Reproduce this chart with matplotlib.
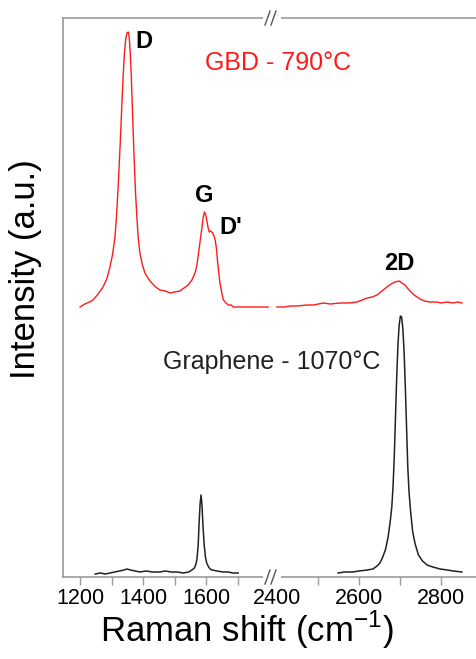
import matplotlib
matplotlib.use("Agg")
import matplotlib.pyplot as plt
from matplotlib.lines import Line2D

plt.rcParams['font.family'] = ['Liberation Sans', 'DejaVu Sans']
plt.rcParams['mathtext.fontset'] = 'custom'
plt.rcParams['mathtext.rm'] = 'Liberation Sans'

# GBD - 790C spectrum (red), low-wavenumber part
red_left_x = [1200, 1215, 1230, 1241, 1255, 1273, 1285, 1295, 1303, 1311, 1316, 1321, 1327, 1333,
              1337, 1341, 1345, 1349, 1353, 1356, 1359, 1362, 1366, 1371, 1376, 1381, 1385, 1390,
              1398, 1406, 1417, 1428, 1440, 1454, 1470, 1486, 1500, 1517, 1530, 1543, 1555, 1565,
              1571, 1576, 1582, 1587, 1591, 1595, 1599, 1602, 1606, 1610, 1615, 1621, 1625, 1629,
              1633, 1636, 1640, 1644, 1650, 1655, 1663, 1671, 1680, 1686, 1700, 1715, 1729, 1745,
              1760, 1780, 1797]
red_left_y = [270, 273, 275, 277, 282, 290, 298, 310, 322, 340, 362, 390, 430, 474,
              502, 524, 538, 544, 545, 540, 526, 507, 470, 424, 385, 357, 338, 324,
              312, 304, 298, 294, 290, 287, 286, 284, 285, 286, 289, 292, 297, 304,
              312, 324, 338, 350, 360, 365, 362, 357, 350, 345, 346, 344, 341, 337,
              328, 317, 305, 294, 284, 277, 274, 272, 272, 270, 270, 270, 270, 270,
              270, 270, 270]

# GBD - 790C spectrum (red), 2D region
red_right_x = [2400, 2420, 2432, 2450, 2473, 2490, 2512, 2530, 2554, 2575, 2595, 2608, 2620, 2632,
               2644, 2656, 2668, 2678, 2688, 2698, 2705, 2712, 2720, 2729, 2738, 2749, 2760, 2773,
               2790, 2800, 2815, 2830, 2840, 2851]
red_right_y = [270, 270, 271, 271, 272, 272, 274, 273, 274, 274, 275, 277, 279, 280,
               282, 286, 290, 293, 295, 296, 294, 292, 288, 284, 281, 278, 276, 275,
               275, 274, 275, 274, 275, 274]

# Graphene - 1070C spectrum (black)
blk_left_x = [1248, 1265, 1280, 1295, 1310, 1325, 1340, 1349, 1360, 1375, 1390, 1410, 1430, 1454,
              1470, 1490, 1510, 1527, 1545, 1555, 1563, 1568, 1571, 1575, 1578, 1581, 1584, 1587,
              1590, 1594, 1598, 1602, 1608, 1613, 1619, 1635, 1654, 1670, 1685, 1702]
blk_left_y = [3, 4, 3, 4, 5, 6, 7, 8, 7, 6, 5, 6, 5, 5,
              6, 5, 5, 4, 5, 7, 9, 13, 18, 32, 55, 73, 82, 72,
              52, 32, 20, 14, 10, 8, 7, 6, 5, 5, 4, 4]

blk_right_x = [2549, 2565, 2585, 2600, 2620, 2634, 2644, 2651, 2658, 2665, 2671, 2676, 2680, 2683,
               2686, 2689, 2692, 2695, 2698, 2701, 2704, 2707, 2710, 2713, 2716, 2719, 2722, 2726,
               2731, 2737, 2745, 2755, 2766, 2780, 2798, 2815, 2830, 2851]
blk_right_y = [4, 5, 5, 6, 7, 8, 11, 14, 20, 28, 40, 55, 70, 90,
               120, 160, 200, 232, 252, 261, 260, 248, 225, 190, 150, 110, 85, 65,
               45, 33, 22, 16, 12, 10, 8, 7, 6, 5]

red = '#ff1a1a'
blk = '#222222'
spine_c = '#9a9a9a'

fig = plt.figure(figsize=(4.77, 6.59), dpi=100)
W, H = 477.0, 659.0
bot = 1 - 577 / H
hgt = (577 - 18) / H
ax1 = fig.add_axes([63 / W, bot, (271 - 63) / W, hgt])
ax2 = fig.add_axes([271 / W, bot, (477 - 271) / W, hgt])
ax2.patch.set_visible(False)

ax1.plot(red_left_x, red_left_y, color=red, lw=1.0)
ax1.plot(blk_left_x, blk_left_y, color=blk, lw=1.1)
ax2.plot(red_right_x, red_right_y, color=red, lw=1.0)
ax2.plot(blk_right_x, blk_right_y, color=blk, lw=1.1)

ax1.set_xlim(1146, 1806)
ax2.set_xlim(2385.4, 2887.8)
for ax in (ax1, ax2):
    ax.set_ylim(0, 559)
    ax.set_yticks([])
    ax.spines['right'].set_visible(False)
    for s in ('left', 'top', 'bottom'):
        ax.spines[s].set_color(spine_c)
        ax.spines[s].set_linewidth(1.2)
    ax.tick_params(axis='x', which='both', direction='out', length=6, width=1.0,
                   color=spine_c, labelsize=15.5, pad=2)
ax2.spines['left'].set_visible(False)

ax1.set_xticks([1200, 1400, 1600])
ax1.set_xticks([1300, 1500, 1700], minor=True)
ax2.set_xticks([2400, 2600, 2800])
ax2.set_xticks([2500, 2700], minor=True)
ax2.xaxis.get_major_ticks()[0].tick1line.set_visible(False)

# axis break marks
for yb in (18, 577):
    fig.add_artist(Line2D([265 / W, 279 / W], [1 - yb / H] * 2, color='white', lw=3,
                          transform=fig.transFigure))
    for xb in (265, 271):
        fig.add_artist(Line2D([xb / W, (xb + 5) / W], [1 - (yb + 7) / H, 1 - (yb - 7) / H],
                              color='#555555', lw=1.0, transform=fig.transFigure))

# peak labels
bold = dict(fontsize=17, fontweight='bold', color='black', clip_on=False)
ax1.text(1375, 535, 'D', ha='left', va='center', **bold)
ax1.text(1594, 381, 'G', ha='center', va='center', **bold)
ax1.text(1642, 349, "D'", ha='left', va='center', **bold)
ax2.text(2698, 314, '2D', ha='center', va='center', **bold)
ax1.text(1597, 514, 'GBD - 790°C', ha='left', va='center', fontsize=18, color=red, clip_on=False)
ax1.text(1463, 215, 'Graphene - 1070°C', ha='left', va='center', fontsize=18, color=blk,
         clip_on=False)

fig.text(247 / W, 1 - 642 / H, 'Raman shift (cm$^{\\mathrm{-1}}$)', ha='center', va='baseline',
         fontsize=25)
fig.text(26 / W, 1 - 269 / H, 'Intensity (a.u.)', ha='center', va='center', rotation=90,
         fontsize=25)

fig.savefig('out.png', dpi=100)
